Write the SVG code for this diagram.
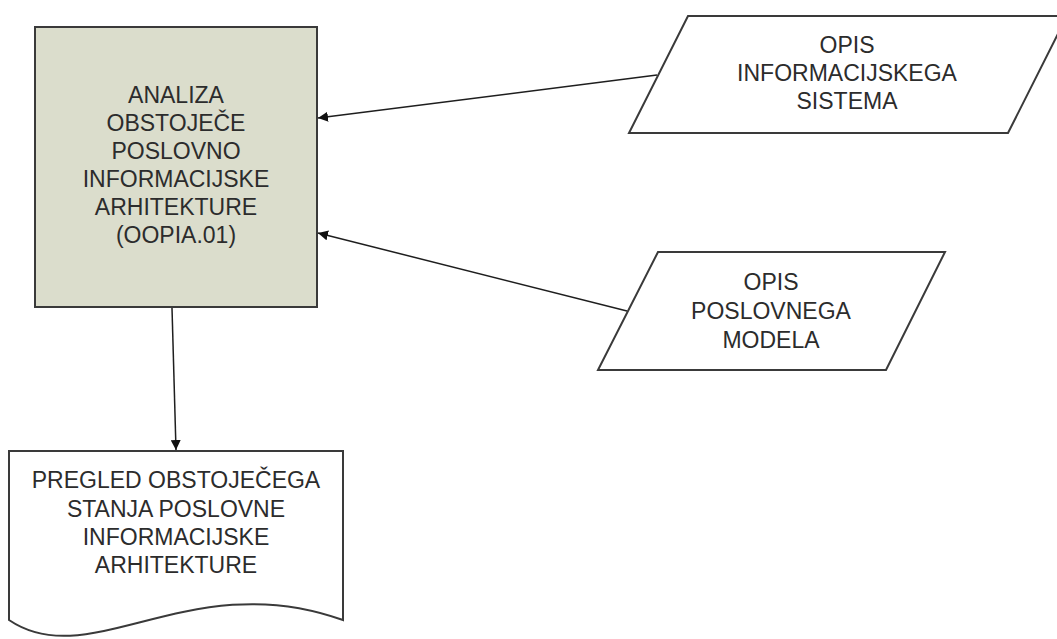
<svg xmlns="http://www.w3.org/2000/svg" width="1057" height="639" viewBox="0 0 1057 639">
  <style>
    .shape { stroke: #3a3a3a; stroke-width: 2; stroke-linejoin: miter; }
    .label { font-family: "Liberation Sans", Arial, sans-serif; font-size: 23px; fill: #2c2c2c; text-anchor: middle; }
    .conn { stroke: #1e1e1e; stroke-width: 1.5; fill: none; marker-end: url(#arrow); }
  </style>
  <defs>
    <marker id="arrow" viewBox="0 0 10 10" refX="10" refY="5" markerWidth="10" markerHeight="10" markerUnits="userSpaceOnUse" orient="auto">
      <path d="M0,0 L10,5 L0,10 z" fill="#111"/>
    </marker>
  </defs>
  <rect width="1057" height="639" fill="#ffffff"/>

  <g id="analiza">
    <rect class="shape" x="35" y="27" width="282" height="280" fill="#dbddcc"/>
    <text class="label" x="176" y="103">ANALIZA</text>
    <text class="label" x="176" y="131">OBSTOJEČE</text>
    <text class="label" x="176" y="159">POSLOVNO</text>
    <text class="label" x="176" y="187">INFORMACIJSKE</text>
    <text class="label" x="176" y="215">ARHITEKTURE</text>
    <text class="label" x="176" y="243">(OOPIA.01)</text>
  </g>

  <g id="opis-is">
    <polygon class="shape" points="688,16 1067,16 1008,133 629,133" fill="#ffffff"/>
    <text class="label" x="847" y="53">OPIS</text>
    <text class="label" x="847" y="81">INFORMACIJSKEGA</text>
    <text class="label" x="847" y="109">SISTEMA</text>
  </g>

  <g id="opis-pm">
    <polygon class="shape" points="658,252 945,252 886,370 598,370" fill="#ffffff"/>
    <text class="label" x="771" y="290">OPIS</text>
    <text class="label" x="771" y="319">POSLOVNEGA</text>
    <text class="label" x="771" y="348">MODELA</text>
  </g>

  <g id="pregled">
    <path class="shape" d="M9,451 L343,451 L343,620 C190,565 90,675 9,620 Z" fill="#ffffff"/>
    <text class="label" x="176" y="488">PREGLED OBSTOJEČEGA</text>
    <text class="label" x="176" y="517">STANJA POSLOVNE</text>
    <text class="label" x="176" y="545">INFORMACIJSKE</text>
    <text class="label" x="176" y="573">ARHITEKTURE</text>
  </g>

  <g id="connectors">
    <line class="conn" x1="657" y1="75" x2="318" y2="118"/>
    <line class="conn" x1="627" y1="311" x2="318" y2="233"/>
    <line class="conn" x1="172" y1="308" x2="176" y2="450"/>
  </g>
</svg>
